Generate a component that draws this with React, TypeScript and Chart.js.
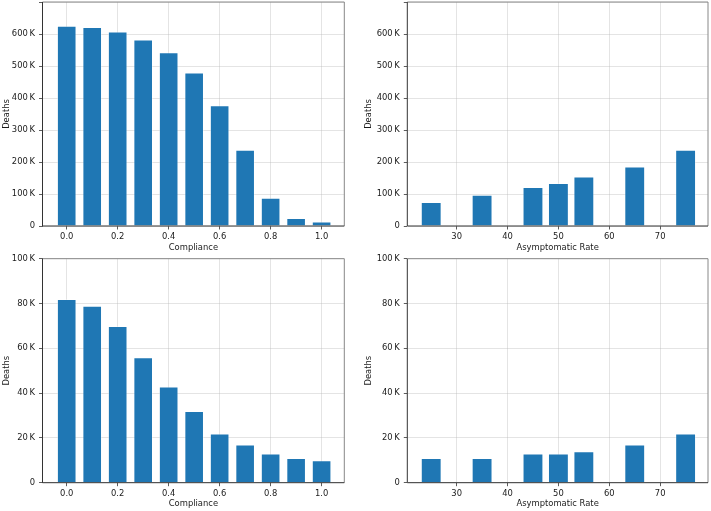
import React, { useEffect, useRef } from 'react';
import { Chart, registerables } from 'chart.js';

Chart.register(...registerables);

// ---- data ----
const complianceLevels = [0.0, 0.1, 0.2, 0.3, 0.4, 0.5, 0.6, 0.7, 0.8, 0.9, 1.0];
const complianceDeathsTop = [626000, 622000, 608000, 583000, 543000, 480000, 377000, 238000, 88000, 25000, 14000];
const complianceDeathsBottom = [82000, 79000, 70000, 56000, 43000, 32000, 22000, 17000, 13000, 11000, 10000];

const asymptomaticRates = [25, 35, 45, 50, 55, 65, 75];
const asymptomaticDeathsTop = [75000, 98000, 122000, 134000, 155000, 186000, 238000];
const asymptomaticDeathsBottom = [11000, 11000, 13000, 13000, 14000, 17000, 22000];

const complianceTicks = [0.0, 0.2, 0.4, 0.6, 0.8, 1.0];
const asymptomaticTicks = [30, 40, 50, 60, 70];
const topYTicks = [0, 100000, 200000, 300000, 400000, 500000, 600000, 700000];
const bottomYTicks = [0, 20000, 40000, 60000, 80000, 100000];

const FONT = "'DejaVu Sans', sans-serif";
const FS = 8.4;
const TEXT = '#1a1a1a';

type Rect = { l: number; t: number; r: number; b: number };
type Box = { left: number; top: number; width: number; height: number };

type Panel = {
  xs: number[];
  ys: number[];
  xTicks: number[];
  xFmt: (v: number) => string;
  xMin: number;
  xMax: number;
  yTicks: number[];
  yMax: number;
  hideTop: boolean;
  xTitle: string;
  barPct: number;
  canvas: Box;
  plot: Rect;
  xTitlePad: number;
};

const fmtEng = (v: number) => (v === 0 ? '0' : `${Math.round(v / 1000)}\u2009K`);

const framePlugin = {
  id: 'frame',
  afterDatasetsDraw(chart: any) {
    const { ctx, chartArea } = chart;
    const { left, top, right, bottom } = chartArea;
    ctx.save();
    ctx.lineWidth = 1;
    ctx.strokeStyle = '#888';
    ctx.beginPath();
    ctx.moveTo(left, top);
    ctx.lineTo(right, top);
    ctx.lineTo(right, bottom);
    ctx.stroke();
    ctx.strokeStyle = '#333';
    ctx.beginPath();
    ctx.moveTo(left, top);
    ctx.lineTo(left, bottom);
    ctx.lineTo(right, bottom);
    ctx.stroke();
    ctx.restore();
  },
};

const panels: Panel[] = [
  {
    xs: complianceLevels,
    ys: complianceDeathsTop,
    xTicks: complianceTicks,
    xFmt: (v) => v.toFixed(1),
    xMin: -0.095,
    xMax: 1.089,
    yTicks: topYTicks,
    yMax: 700000,
    hideTop: true,
    xTitle: 'Compliance',
    barPct: 0.77,
    canvas: { left: 0, top: 0, width: 355, height: 254 },
    plot: { l: 42.5, t: 2, r: 344.3, b: 226 },
    xTitlePad: 1,
  },
  {
    xs: asymptomaticRates,
    ys: asymptomaticDeathsTop,
    xTicks: asymptomaticTicks,
    xFmt: (v) => String(v),
    xMin: 20.3,
    xMax: 79.4,
    yTicks: topYTicks,
    yMax: 700000,
    hideTop: true,
    xTitle: 'Asymptomatic Rate',
    barPct: 0.82,
    canvas: { left: 362, top: 0, width: 349, height: 254 },
    plot: { l: 407.3, t: 2, r: 708, b: 226 },
    xTitlePad: 1,
  },
  {
    xs: complianceLevels,
    ys: complianceDeathsBottom,
    xTicks: complianceTicks,
    xFmt: (v) => v.toFixed(1),
    xMin: -0.095,
    xMax: 1.089,
    yTicks: bottomYTicks,
    yMax: 100000,
    hideTop: false,
    xTitle: 'Compliance',
    barPct: 0.77,
    canvas: { left: 0, top: 254, width: 355, height: 257 },
    plot: { l: 42.5, t: 258.7, r: 344.3, b: 482.7 },
    xTitlePad: 2,
  },
  {
    xs: asymptomaticRates,
    ys: asymptomaticDeathsBottom,
    xTicks: asymptomaticTicks,
    xFmt: (v) => String(v),
    xMin: 20.3,
    xMax: 79.4,
    yTicks: bottomYTicks,
    yMax: 100000,
    hideTop: false,
    xTitle: 'Asymptomatic Rate',
    barPct: 0.82,
    canvas: { left: 362, top: 254, width: 349, height: 257 },
    plot: { l: 407.3, t: 258.7, r: 708, b: 482.7 },
    xTitlePad: 2,
  },
];

function BarPanel({ p }: { p: Panel }) {
  const ref = useRef<HTMLCanvasElement | null>(null);
  useEffect(() => {
    if (!ref.current) return;
    const { canvas: c, plot } = p;
    const yAxisWidth = plot.l - c.left;
    const xAxisHeight = c.top + c.height - plot.b;
    const chart = new Chart(ref.current, {
      type: 'bar',
      data: {
        datasets: [
          {
            data: p.xs.map((x, i) => ({ x, y: p.ys[i] })),
            backgroundColor: '#1f77b4',
            borderColor: 'rgba(255,255,255,0.35)',
            borderWidth: 1,
            barPercentage: p.barPct,
            categoryPercentage: 1,
          } as any,
        ],
      },
      options: {
        animation: false,
        responsive: false,
        maintainAspectRatio: false,
        layout: {
          padding: {
            left: 0,
            top: plot.t - c.top,
            right: c.left + c.width - plot.r,
            bottom: 0,
          },
        },
        plugins: { legend: { display: false }, tooltip: { enabled: false } },
        scales: {
          x: {
            type: 'linear',
            offset: false,
            min: p.xMin,
            max: p.xMax,
            afterBuildTicks: (s: any) => {
              s.ticks = p.xTicks.map((v) => ({ value: v }));
            },
            afterFit: (s: any) => {
              s.height = xAxisHeight;
              s.paddingLeft = 0;
              s.paddingRight = 0;
            },
            grid: {
              offset: false,
              color: 'rgba(180,180,180,0.45)',
              lineWidth: 0.8,
              drawTicks: true,
              tickLength: 3.5,
              tickColor: '#333',
              tickWidth: 0.8,
            },
            border: { display: false },
            ticks: {
              autoSkip: false,
              maxRotation: 0,
              padding: 2.5,
              color: TEXT,
              font: { family: FONT, size: FS },
              callback: (v: any) => p.xFmt(Number(v)),
            },
            title: {
              display: true,
              text: p.xTitle,
              color: TEXT,
              font: { family: FONT, size: FS },
              padding: { top: 0, bottom: p.xTitlePad },
            },
          } as any,
          y: {
            type: 'linear',
            min: 0,
            max: p.yMax,
            afterBuildTicks: (s: any) => {
              s.ticks = p.yTicks.map((v) => ({ value: v }));
            },
            afterFit: (s: any) => {
              s.width = yAxisWidth;
              s.paddingTop = 0;
              s.paddingBottom = 0;
            },
            grid: {
              color: 'rgba(180,180,180,0.45)',
              lineWidth: 0.8,
              drawTicks: true,
              tickLength: 3.5,
              tickColor: '#333',
              tickWidth: 0.8,
            },
            border: { display: false },
            ticks: {
              padding: 4,
              color: TEXT,
              font: { family: FONT, size: FS },
              callback: (v: any) => {
                const n = Number(v);
                if (p.hideTop && n === p.yMax) return '';
                return fmtEng(n);
              },
            },
            title: {
              display: true,
              text: 'Deaths',
              color: TEXT,
              font: { family: FONT, size: FS },
              padding: { top: 1.3, bottom: 0 },
            },
          } as any,
        },
      },
      plugins: [framePlugin],
    });
    return () => chart.destroy();
  }, [p]);
  const c = p.canvas;
  return (
    <canvas
      ref={ref}
      width={c.width}
      height={c.height}
      style={{
        position: 'absolute',
        left: c.left,
        top: c.top,
        width: c.width,
        height: c.height,
        display: 'block',
      }}
    />
  );
}

export default function App() {
  return (
    <div
      style={{
        position: 'absolute',
        left: 0,
        top: 0,
        width: 711,
        height: 511,
        background: '#fff',
        overflow: 'hidden',
      }}
    >
      {panels.map((p, i) => (
        <BarPanel key={i} p={p} />
      ))}
    </div>
  );
}
